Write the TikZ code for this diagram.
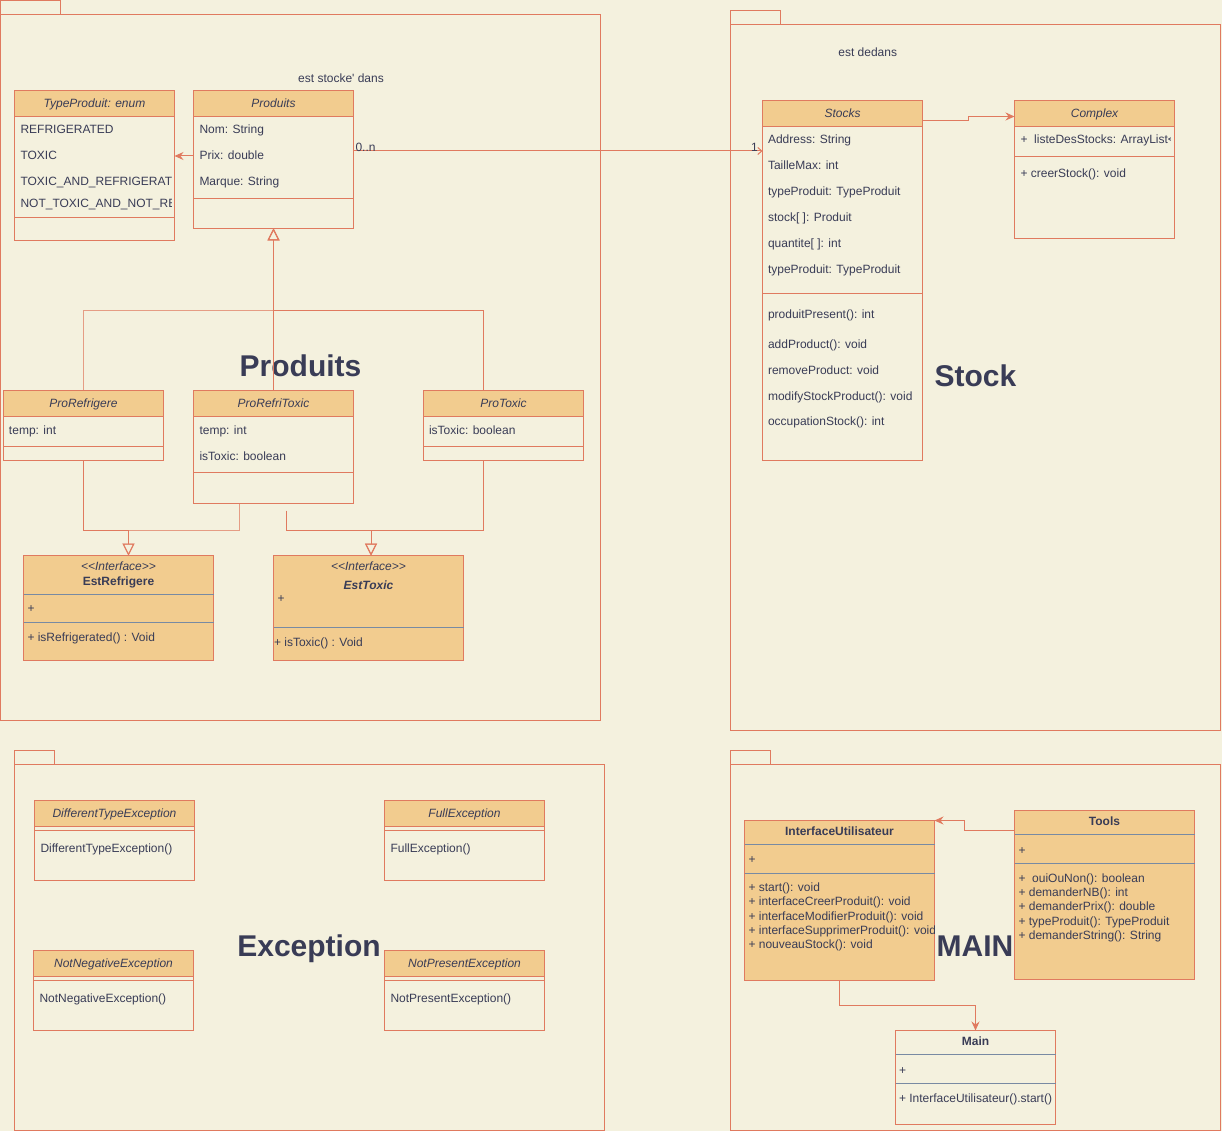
\documentclass[tikz,border=0pt]{standalone}
\usepackage{fontspec}
\setmainfont{Liberation Sans}[Ligatures=TeXOff]
\usetikzlibrary{arrows.meta}
\definecolor{bg}{HTML}{F4F1DE}
\definecolor{stk}{HTML}{E07A5F}
\definecolor{hdr}{HTML}{F2CC8F}
\definecolor{ink}{HTML}{393C56}
\definecolor{gsp}{HTML}{788AA3}
\begin{document}
\begin{tikzpicture}[x=1pt,y=-1pt,line width=1pt,
  font=\fontsize{12}{14}\selectfont, text=ink,
  upkg/.style={draw=stk, inner sep=0pt, outer sep=0pt, anchor=north west},
  ubox/.style={draw=stk, inner sep=0pt, outer sep=0pt, anchor=north west},
  uhead/.style={draw=stk, fill=hdr, inner sep=0pt, outer sep=0pt, anchor=north west, minimum height=26pt, text height=9.5pt, text depth=1.5pt, font=\fontsize{12}{14}\selectfont\itshape},
  urow/.style={anchor=base west, inner sep=0pt, outer sep=0pt},
  uctr/.style={anchor=base, inner sep=0pt, outer sep=0pt},
  ubig/.style={uctr, font=\fontsize{30}{36}\selectfont\bfseries},
  usep/.style={draw=stk},
  ugsep/.style={draw=gsp},
  uconn/.style={draw=stk},
  uinh/.style={uconn, -{Triangle[open, length=12pt, width=12pt]}},
  uass/.style={uconn, -{Stealth[length=9pt, width=8pt, inset=3pt]}},
  ubarb/.style={uconn, -{Straight Barb[length=4pt, width=7pt]}},
]
\useasboundingbox (0,0) rectangle (1222,1131);
\fill[bg] (0,0) rectangle (1222,1131);

% ---------- packages ----------
\node[upkg, minimum width=60, minimum height=14] (p1tab) at (0.5,0.5) {};
\node[upkg, minimum width=599.5, minimum height=706] (p1) at (0.5,14.5) {};
\node[upkg, minimum width=50, minimum height=14] (p2tab) at (730.5,10.5) {};
\node[upkg, minimum width=490, minimum height=706] (p2) at (730.5,24.5) {};
\node[upkg, minimum width=40, minimum height=14] (p3tab) at (14.5,750.5) {};
\node[upkg, minimum width=590, minimum height=366] (p3) at (14.5,764.5) {};
\node[upkg, minimum width=40, minimum height=14] (p4tab) at (730.5,750.5) {};
\node[upkg, minimum width=490, minimum height=366] (p4) at (730.5,764.5) {};

% ---------- titles ----------
\node[ubig] (tProd) at (300.5,376) {Produits};
\node[ubig] (tStock) at (975.5,386) {Stock};
\node[ubig] (tExc) at (309,956) {Exception};
\node[ubig] (tMain) at (975,956.5) {MAIN};

% ---------- TypeProduit ----------
\node[ubox, minimum width=160, minimum height=150] (tp) at (14.5,90.5) {};
\node[uhead, minimum width=160] (tpH) at (14.5,90.5) {TypeProduit: enum};
\draw[usep] (14.5,217.5) -- (174.5,217.5);
\begin{scope}
\clip (15,117) rectangle (171.5,217);
\node[urow] (tp1) at (20.5,134) {REFRIGERATED};
\node[urow] (tp2) at (20.5,160) {TOXIC};
\node[urow] (tp3) at (20.5,185.5) {TOXIC\_AND\_REFRIGERATED};
\node[urow] (tp4) at (20.5,207.5) {NOT\_TOXIC\_AND\_NOT\_REFRIGERATED};
\end{scope}

% ---------- Produits ----------
\node[ubox, minimum width=160, minimum height=138] (pr) at (193.5,90.5) {};
\node[uhead, minimum width=160] (prH) at (193.5,90.5) {Produits};
\draw[usep] (193.5,198.5) -- (353.5,198.5);
\node[urow] (pr1) at (199.5,134) {Nom: String};
\node[urow] (pr2) at (199.5,160) {Prix: double};
\node[urow] (pr3) at (199.5,186) {Marque: String};

\node[uctr] (lblStocke) at (341,83) {est stocke' dans};

% ---------- Stocks ----------
\node[ubox, minimum width=160, minimum height=360] (st) at (762.5,100.5) {};
\node[uhead, minimum width=160] (stH) at (762.5,100.5) {Stocks};
\draw[usep] (762.5,293.5) -- (922.5,293.5);
\node[urow] (st1) at (768,143.5) {Address: String};
\node[urow] (st2) at (768,169.5) {TailleMax: int};
\node[urow] (st3) at (768,195.5) {typeProduit: TypeProduit};
\node[urow] (st4) at (768,221.5) {stock[ ]: Produit};
\node[urow] (st5) at (768,247.5) {quantite[ ]: int};
\node[urow] (st6) at (768,273.5) {typeProduit: TypeProduit};
\node[urow] (st7) at (768,318) {produitPresent(): int};
\node[urow] (st8) at (768,348) {addProduct(): void};
\node[urow] (st9) at (768,374) {removeProduct: void};
\node[urow] (st10) at (768,400) {modifyStockProduct(): void};
\node[urow] (st11) at (768,425.5) {occupationStock(): int};

\node[uctr] (lblDedans) at (867.7,57) {est dedans};

% ---------- Complex ----------
\node[ubox, minimum width=160, minimum height=138] (cx) at (1014.5,100.5) {};
\node[uhead, minimum width=160] (cxH) at (1014.5,100.5) {Complex};
\draw[usep] (1014.5,156.5) -- (1174.5,156.5);
\begin{scope}
\clip (1015,127) rectangle (1170,156);
\node[urow] (cx1) at (1020.5,143.5) {+\ \ listeDesStocks: ArrayList<Stocks>};
\end{scope}
\node[urow] (cx2) at (1020.5,177.5) {+ creerStock(): void};

% ---------- sub classes ----------
\node[ubox, minimum width=160, minimum height=70] (prr) at (3.5,390.5) {};
\node[uhead, minimum width=160] (prrH) at (3.5,390.5) {ProRefrigere};
\draw[usep] (3.5,446.5) -- (163.5,446.5);
\node[urow] (prr1) at (9,434) {temp: int};

\node[ubox, minimum width=160, minimum height=113] (prt) at (193.5,390.5) {};
\node[uhead, minimum width=160] (prtH) at (193.5,390.5) {ProRefriToxic};
\draw[usep] (193.5,472.5) -- (353.5,472.5);
\node[urow] (prt1) at (199.5,434) {temp: int};
\node[urow] (prt2) at (199.5,460) {isToxic: boolean};

\node[ubox, minimum width=160, minimum height=70] (ptx) at (423.5,390.5) {};
\node[uhead, minimum width=160] (ptxH) at (423.5,390.5) {ProToxic};
\draw[usep] (423.5,446.5) -- (583.5,446.5);
\node[urow] (ptx1) at (429,434) {isToxic: boolean};

% ---------- interfaces ----------
\node[ubox, fill=hdr, minimum width=190, minimum height=105] (er) at (23.5,555.5) {};
\node[uctr, font=\fontsize{12}{14}\selectfont\itshape] (er1) at (118.5,570) {<<Interface>>};
\node[uctr, font=\fontsize{12}{14}\selectfont\bfseries] (er2) at (118.5,585) {EstRefrigere};
\draw[ugsep] (23.5,594.5) -- (213.5,594.5);
\node[urow] (er3) at (27.5,612.5) {+};
\draw[ugsep] (23.5,622.5) -- (213.5,622.5);
\node[urow] (er4) at (27.5,641) {+ isRefrigerated() : Void};

\node[ubox, fill=hdr, minimum width=190, minimum height=105] (et) at (273.5,555.5) {};
\node[uctr, font=\fontsize{12}{14}\selectfont\itshape] (et1) at (368.5,570) {<<Interface>>};
\node[uctr, font=\fontsize{12}{14}\selectfont\bfseries\itshape] (et2) at (368.5,589) {EstToxic};
\node[urow] (et3) at (277.5,602.5) {+};
\draw[ugsep] (273.5,627.5) -- (463.5,627.5);
\node[urow] (et4) at (274,646.5) {+ isToxic() : Void};

% ---------- exceptions ----------
\node[ubox, minimum width=160, minimum height=80] (dte) at (34.5,800.5) {};
\node[uhead, minimum width=160] (dteH) at (34.5,800.5) {DifferentTypeException};
\draw[usep] (34.5,830.5) -- (194.5,830.5);
\node[urow] (dte1) at (40.5,852) {DifferentTypeException()};

\node[ubox, minimum width=160, minimum height=80] (fe) at (384.5,800.5) {};
\node[uhead, minimum width=160] (feH) at (384.5,800.5) {FullException};
\draw[usep] (384.5,830.5) -- (544.5,830.5);
\node[urow] (fe1) at (390.5,852) {FullException()};

\node[ubox, minimum width=160, minimum height=80] (nne) at (33.5,950.5) {};
\node[uhead, minimum width=160] (nneH) at (33.5,950.5) {NotNegativeException};
\draw[usep] (33.5,980.5) -- (193.5,980.5);
\node[urow] (nne1) at (39.5,1002) {NotNegativeException()};

\node[ubox, minimum width=160, minimum height=80] (npe) at (384.5,950.5) {};
\node[uhead, minimum width=160] (npeH) at (384.5,950.5) {NotPresentException};
\draw[usep] (384.5,980.5) -- (544.5,980.5);
\node[urow] (npe1) at (390.5,1002) {NotPresentException()};

% ---------- MAIN ----------
\node[ubox, fill=hdr, minimum width=190, minimum height=160] (iu) at (744.5,820.5) {};
\node[uctr, font=\fontsize{12}{14}\selectfont\bfseries] (iu0) at (839.5,835) {InterfaceUtilisateur};
\draw[ugsep] (744.5,844.5) -- (934.5,844.5);
\node[urow] (iu1) at (748.5,863) {+};
\draw[ugsep] (744.5,873.5) -- (934.5,873.5);
\begin{scope}
\clip (745,874) rectangle (934,979);
\node[urow] (iu2) at (748.5,891.3) {+ start(): void};
\node[urow] (iu3) at (748.5,905.7) {+ interfaceCreerProduit(): void};
\node[urow] (iu4) at (748.5,920.1) {+ interfaceModifierProduit(): void};
\node[urow] (iu5) at (748.5,934.5) {+ interfaceSupprimerProduit(): void};
\node[urow] (iu6) at (748.5,948.9) {+ nouveauStock(): void};
\end{scope}

\node[ubox, fill=hdr, minimum width=180, minimum height=169] (tl) at (1014.5,810.5) {};
\node[uctr, font=\fontsize{12}{14}\selectfont\bfseries] (tl0) at (1104.5,825) {Tools};
\draw[ugsep] (1014.5,834.5) -- (1194.5,834.5);
\node[urow] (tl1) at (1018.5,854) {+};
\draw[ugsep] (1014.5,863.5) -- (1194.5,863.5);
\node[urow] (tl2) at (1018.5,882) {+\ \ ouiOuNon(): boolean};
\node[urow] (tl3) at (1018.5,896.4) {+ demanderNB(): int};
\node[urow] (tl4) at (1018.5,910.8) {+ demanderPrix(): double};
\node[urow] (tl5) at (1018.5,925.2) {+ typeProduit(): TypeProduit};
\node[urow] (tl6) at (1018.5,939.6) {+ demanderString(): String};

\node[ubox, minimum width=160, minimum height=94] (mn) at (895.5,1030.5) {};
\node[uctr, font=\fontsize{12}{14}\selectfont\bfseries] (mn0) at (975.5,1045) {Main};
\draw[ugsep] (895.5,1054.5) -- (1055.5,1054.5);
\node[urow] (mn1) at (899,1074) {+};
\draw[ugsep] (895.5,1083.5) -- (1055.5,1083.5);
\begin{scope}
\clip (896,1084) rectangle (1055,1124);
\node[urow] (mn2) at (899,1102.5) {+ InterfaceUtilisateur().start()};
\end{scope}

% ---------- connectors ----------
\draw[uass] ([yshift=3.5pt]pr.west) -- ([yshift=3.5pt]pr.west -| tp.east);
\draw[ubarb] ([yshift=8.5pt]pr.east) -- ([yshift=8.5pt]pr.east -| st.west);
\node[urow] (lblN) at (355.5,151.5) {0..n};
\node[urow] (lbl1) at (751,151.5) {1};

\coordinate (sc1) at ([yshift=-20pt]st.north east);
\coordinate (sc2) at ([yshift=-16pt]cx.north west);
\draw[uass] (sc1) -- ++(45.5,0) |- (sc2);

\coordinate (j1) at ([yshift=-82pt]pr.south);
\draw[uinh] (prt.north) -- (pr.south);
\draw[uinh, draw opacity=0.7] (prr.north) |- (j1) -- (pr.south);
\draw[uinh] ([xshift=-20pt]ptx.north) |- (j1) -- (pr.south);

\coordinate (e1) at ([xshift=10pt]er.north);
\coordinate (j2) at ([xshift=10pt,yshift=25pt]er.north);
\draw[uinh] (prr.south) |- (j2) -- (e1);
\draw[uinh, draw opacity=0.7] ([xshift=-34pt]prt.south) |- (j2) -- (e1);

\coordinate (e2) at ([xshift=2.5pt]et.north);
\coordinate (j3) at ([xshift=2.5pt,yshift=25pt]et.north);
\draw[uinh] ([xshift=-20pt]ptx.south) |- (j3) -- (e2);
\draw[uinh] ([xshift=12.6pt,yshift=-7pt]prt.south) |- (j3) -- (e2);

\draw[uass] ([yshift=-20pt]tl.north west) -- ++(-50,0) |- (iu.north east);
\draw[uass] (iu.south) -- ++(0,25) -| (mn.north);
\end{tikzpicture}
\end{document}
